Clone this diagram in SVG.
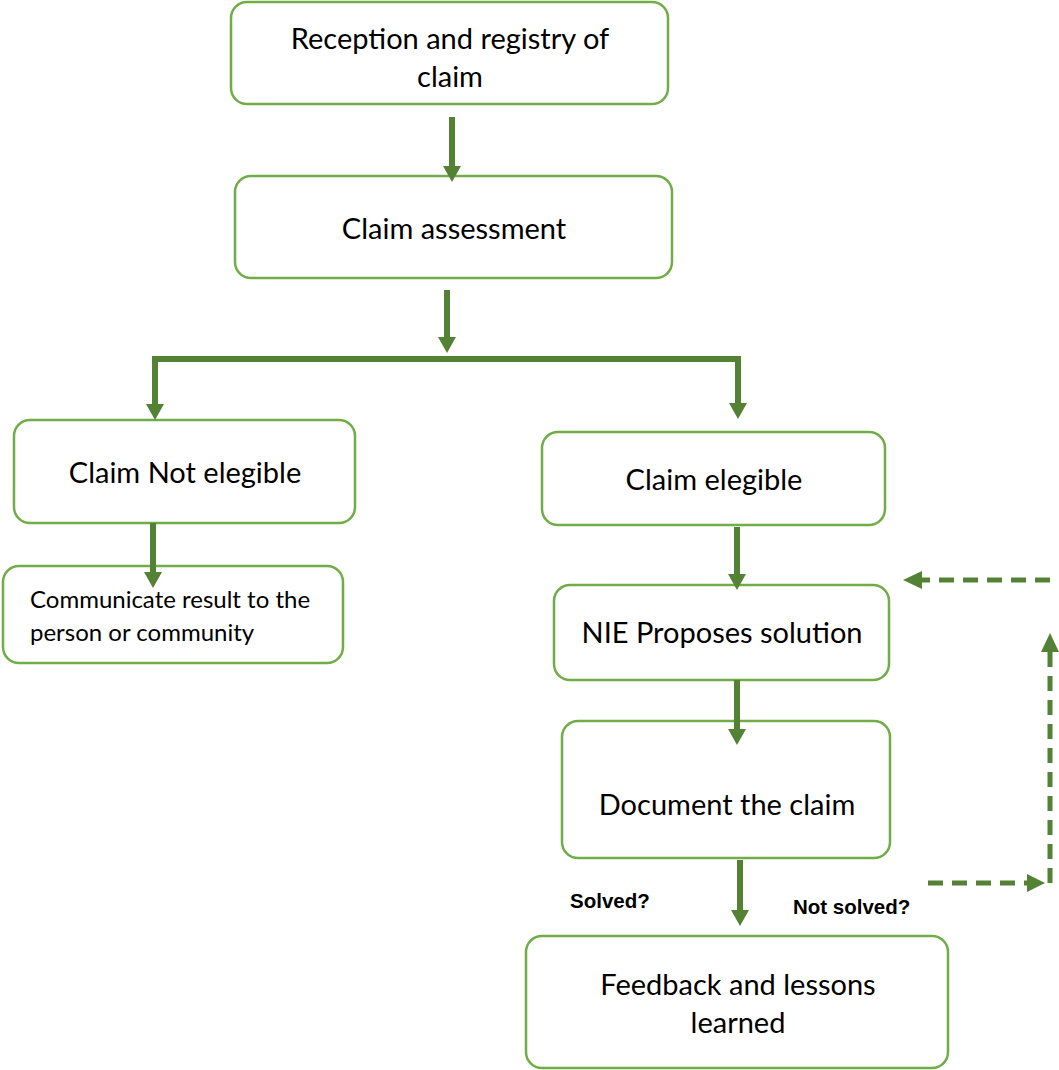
<svg xmlns="http://www.w3.org/2000/svg" width="1059" height="1070" viewBox="0 0 1059 1070">
<style>
.box{fill:#fff;stroke:#70AD47;stroke-width:2.5}
.t{font-family:Lato,"Open Sans","Liberation Sans",sans-serif;font-size:29px;fill:#000;text-anchor:middle}
.ts{font-family:Lato,"Open Sans","Liberation Sans",sans-serif;font-size:24px;fill:#000}
.lab{font-family:"Liberation Sans",Arial,sans-serif;font-size:20.5px;font-weight:bold;fill:#000}
.ln{stroke:#548235;stroke-width:6;fill:none}
.dl{stroke:#548235;stroke-width:5;fill:none;stroke-dasharray:15,9}
.ah{fill:#548235}
</style>
<rect width="1059" height="1070" fill="#fff"/>
<g id="n1"><rect class="box" x="231" y="2" width="437" height="102" rx="16"/><text class="t" x="450" y="49">Reception and registry of</text><text class="t" x="450" y="87">claim</text></g>
<g id="n2"><rect class="box" x="235" y="176" width="437" height="102" rx="16"/><text class="t" x="454" y="239">Claim assessment</text></g>
<g id="n3"><rect class="box" x="14" y="420" width="341" height="103" rx="16"/><text class="t" x="185" y="483">Claim Not elegible</text></g>
<g id="n4"><rect class="box" x="3" y="566" width="340" height="97" rx="16"/><text class="ts" x="30" y="608">Communicate result to the</text><text class="ts" x="30" y="641">person or community</text></g>
<g id="n5"><rect class="box" x="542" y="432" width="343" height="93" rx="16"/><text class="t" x="714" y="490">Claim elegible</text></g>
<g id="n6"><rect class="box" x="554" y="585" width="335" height="95" rx="16"/><text class="t" x="722" y="643">NIE Proposes solution</text></g>
<g id="n7"><rect class="box" x="562" y="721" width="328" height="137" rx="16"/><text class="t" x="727" y="815">Document the claim</text></g>
<g id="n8"><rect class="box" x="526" y="936" width="422" height="132" rx="16"/><text class="t" x="738" y="995">Feedback and lessons</text><text class="t" x="738" y="1033">learned</text></g>
<g id="connectors">
<line class="ln" x1="452" y1="117" x2="452" y2="168"/><polygon class="ah" points="443,166 461,166 452,182"/>
<line class="ln" x1="447" y1="290" x2="447" y2="339"/><polygon class="ah" points="438,337 456,337 447,353"/>
<polyline class="ln" points="155,406 155,359 741,359"/>
<line class="ln" x1="738" y1="359" x2="738" y2="405"/><polygon class="ah" points="729,403 747,403 738,419"/>
<polygon class="ah" points="146,404 164,404 155,420"/>
<line class="ln" x1="153" y1="523" x2="153" y2="574"/><polygon class="ah" points="144,572 162,572 153,588"/>
<line class="ln" x1="737" y1="527" x2="737" y2="576"/><polygon class="ah" points="728,574 746,574 737,590"/>
<line class="ln" x1="737" y1="680" x2="737" y2="731"/><polygon class="ah" points="728,729 746,729 737,745"/>
<line class="ln" x1="740" y1="860" x2="740" y2="912"/><polygon class="ah" points="731,910 749,910 740,926"/>
<line class="dl" x1="1050" y1="580" x2="920" y2="580"/><polygon class="ah" points="922,571 922,589 903,580"/>
<line class="dl" x1="1050" y1="883" x2="1050" y2="652"/><polygon class="ah" points="1041,652 1059,652 1050,633"/>
<line class="dl" x1="928" y1="883" x2="1028" y2="883"/><polygon class="ah" points="1027,874 1027,892 1045,883"/>
</g>
<text class="lab" x="570" y="908">Solved?</text>
<text class="lab" x="793" y="914">Not solved?</text>
</svg>
